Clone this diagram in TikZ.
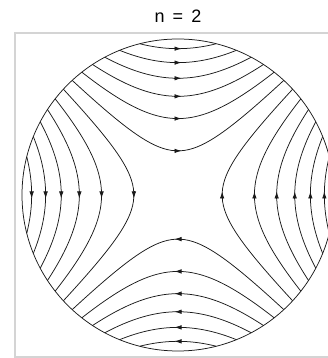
\documentclass[tikz,border=0pt]{standalone}
\usepackage{fontspec}
\setmainfont{Liberation Sans}
\usetikzlibrary{arrows.meta}
\definecolor{FrameGray}{HTML}{D4D4D4}
\definecolor{LineInk}{HTML}{1A1A1A}
\tikzset{
  framebox/.style={draw=FrameGray, line width=2pt},
  rim/.style={draw=LineInk, line width=0.75pt},
  flowline/.style={draw=LineInk, line width=0.75pt},
  flowtip/.style={draw=LineInk, line width=0.75pt, -{Latex[length=7pt,width=4.5pt]}},
  titlefont/.style={font=\fontsize{18}{21}\selectfont, inner sep=0pt}
}

\begin{document}
\begin{tikzpicture}[x=1pt,y=1pt]
  \useasboundingbox (0,0) rectangle (328,358);
  \clip (0,0) rectangle (328,358);
  \draw[framebox] (15,1) rectangle (341,325);
  \node[titlefont, anchor=base] (title) at (178,335.3) {n\hspace{0.45em}=\hspace{0.45em}2};
  \begin{scope}[shift={(178,163)}, x=156pt, y=156pt]
    \draw[rim] (0,0) circle (1);
    % four families of x^2 - y^2 = const
    \foreach \k in {0.08,0.24,0.40,0.56,0.72,0.88} {
      \pgfmathsetmacro{\m}{sqrt((1-\k)/2)}
      \pgfmathsetmacro{\s}{sqrt(\k)}
      \draw[flowline] plot[domain=-\m:\m, samples=50] (\x, {sqrt(\k+\x*\x)});
      \draw[flowline] plot[domain=-\m:\m, samples=50] (\x, {-sqrt(\k+\x*\x)});
      \draw[flowline] plot[domain=-\m:\m, samples=50] ({-sqrt(\k+\x*\x)}, \x);
      \draw[flowline] plot[domain=-\m:\m, samples=50] ({sqrt(\k+\x*\x)}, \x);
      % arrowheads on the axes
      \draw[flowtip] (0,\s) ++(-4pt,0) -- ++(7.5pt,0);
      \draw[flowtip] (0,-\s) ++(4pt,0) -- ++(-7.5pt,0);
      \draw[flowtip] (-\s,0) ++(0,4pt) -- ++(0,-7.5pt);
      \draw[flowtip] (\s,0) ++(0,-4pt) -- ++(0,7.5pt);
    }
  \end{scope}
\end{tikzpicture}
\end{document}
